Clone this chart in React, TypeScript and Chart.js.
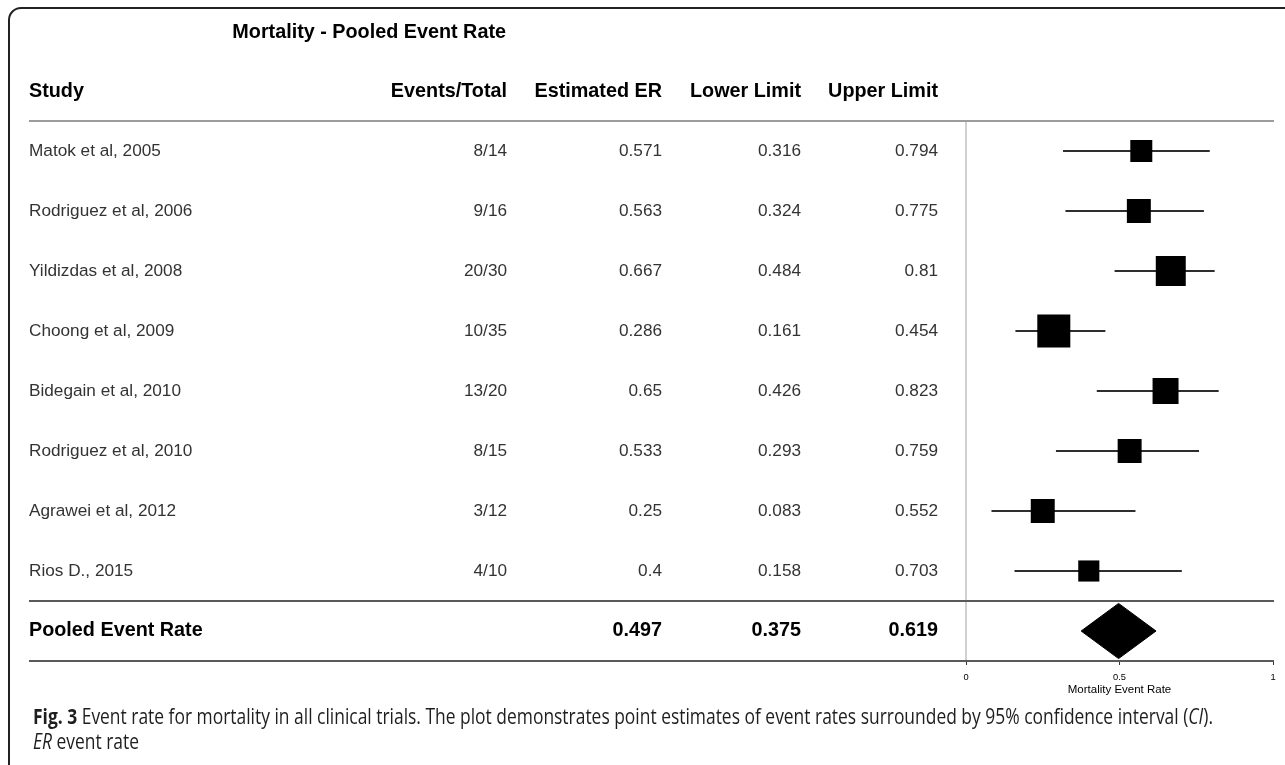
import React, { useEffect, useRef } from 'react';
import { Chart, registerables } from 'chart.js';

Chart.register(...registerables);

// ---- study data ----
const studies = [
  'Matok et al, 2005',
  'Rodriguez et al, 2006',
  'Yildizdas et al, 2008',
  'Choong et al, 2009',
  'Bidegain et al, 2010',
  'Rodriguez et al, 2010',
  'Agrawei et al, 2012',
  'Rios D., 2015',
];
const events = [8, 9, 20, 10, 13, 8, 3, 4];
const totals = [14, 16, 30, 35, 20, 15, 12, 10];
const estimatedER = [0.571, 0.563, 0.667, 0.286, 0.65, 0.533, 0.25, 0.4];
const lowerLimits = [0.316, 0.324, 0.484, 0.161, 0.426, 0.293, 0.083, 0.158];
const upperLimits = [0.794, 0.775, 0.81, 0.454, 0.823, 0.759, 0.552, 0.703];
// relative study weights (%), shown as the size of each square
const relativeWeights = [9.1, 10.8, 16.9, 20.5, 12.7, 10.8, 10.8, 8.4];

const pooledLabel = 'Pooled Event Rate';
const pooledER = 0.497;
const pooledLower = 0.375;
const pooledUpper = 0.619;

const columnHeaders = ['Study', 'Events/Total', 'Estimated ER', 'Lower Limit', 'Upper Limit'];
const xTickValues = [0, 0.5, 1];
const chartTitle = 'Mortality - Pooled Event Rate';
const axisTitle = 'Mortality Event Rate';

const captionLine1 = [
  { text: 'Fig. 3', style: 'bold' },
  {
    text: ' Event rate for mortality in all clinical trials. The plot demonstrates point estimates of event rates surrounded by 95% confidence interval (',
    style: 'normal',
  },
  { text: 'CI', style: 'italic' },
  { text: ').', style: 'normal' },
];
const captionLine2 = [
  { text: 'ER', style: 'italic' },
  { text: ' event rate', style: 'normal' },
];

// ---- layout ----
const W = 1285;
const H = 765;
const TABLE_FONT = '"Liberation Sans", Arial, Helvetica, sans-serif';
const CAPTION_FONT = '"Open Sans", "Noto Sans", sans-serif';
const TABLE_LEFT = 29;
const TABLE_RIGHT = 1274;
const COL_RIGHT = [507, 662, 801, 938];
const SQUARE_SCALE = 72.9; // side length (px) of a square carrying 100% weight
const DIAMOND_HALF = 0.46; // half height of the pooled diamond, in rows

const pooledRow = studies.length;

function hLine(ctx: CanvasRenderingContext2D, x1: number, x2: number, y: number, color: string, w: number) {
  ctx.beginPath();
  ctx.strokeStyle = color;
  ctx.lineWidth = w;
  ctx.moveTo(x1, y);
  ctx.lineTo(x2, y);
  ctx.stroke();
}

function runFont(style: string, size: number) {
  const weight = style === 'bold' ? 'bold ' : '';
  const italic = style === 'italic' ? 'italic ' : '';
  return `${italic}${weight}${size}px ${CAPTION_FONT}`;
}

function drawRuns(ctx: CanvasRenderingContext2D, runs: { text: string; style: string }[], size: number) {
  let x = 0;
  for (const r of runs) {
    ctx.font = runFont(r.style, size);
    ctx.fillText(r.text, x, 0);
    x += ctx.measureText(r.text).width;
  }
  return x;
}

function measureRuns(ctx: CanvasRenderingContext2D, runs: { text: string; style: string }[], size: number) {
  let x = 0;
  for (const r of runs) {
    ctx.font = runFont(r.style, size);
    x += ctx.measureText(r.text).width;
  }
  return x;
}

const forestTable = {
  id: 'forestTable',
  beforeDatasetsDraw(chart: any) {
    const { ctx, chartArea, scales } = chart;
    const x0 = scales.x.getPixelForValue(0);
    ctx.save();
    ctx.beginPath();
    ctx.strokeStyle = '#d0d0d0';
    ctx.lineWidth = 2;
    ctx.moveTo(x0, chartArea.top);
    ctx.lineTo(x0, chartArea.bottom);
    ctx.stroke();
    ctx.restore();
  },
  afterDraw(chart: any) {
    const { ctx, scales } = chart;
    const y = scales.y;
    ctx.save();

    // outer frame (top and left edges, rounded corner)
    const r = 12;
    ctx.beginPath();
    ctx.strokeStyle = '#222';
    ctx.lineWidth = 2;
    ctx.moveTo(9, H);
    ctx.lineTo(9, 8 + r);
    ctx.arcTo(9, 8, 9 + r, 8, r);
    ctx.lineTo(W, 8);
    ctx.stroke();

    // title
    ctx.fillStyle = '#000';
    ctx.textBaseline = 'middle';
    ctx.font = `bold 19.8px ${TABLE_FONT}`;
    ctx.textAlign = 'right';
    ctx.fillText(chartTitle, 506, 33);

    // column headers
    ctx.textAlign = 'left';
    ctx.fillText(columnHeaders[0], TABLE_LEFT, 92);
    ctx.textAlign = 'right';
    for (let c = 1; c < columnHeaders.length; c++) {
      ctx.fillText(columnHeaders[c], COL_RIGHT[c - 1], 92);
    }

    // rule lines
    hLine(ctx, TABLE_LEFT, TABLE_RIGHT, y.getPixelForValue(-0.5), '#9c9c9c', 2);
    hLine(ctx, TABLE_LEFT, TABLE_RIGHT, y.getPixelForValue(pooledRow - 0.5), '#5a5a5a', 2);
    hLine(ctx, TABLE_LEFT, scales.x.getPixelForValue(1), y.getPixelForValue(pooledRow + 0.5), '#5a5a5a', 2);

    // study rows
    ctx.font = `17.2px ${TABLE_FONT}`;
    ctx.fillStyle = '#333';
    studies.forEach((name, i) => {
      const py = y.getPixelForValue(i);
      ctx.textAlign = 'left';
      ctx.fillText(name, TABLE_LEFT, py);
      ctx.textAlign = 'right';
      ctx.fillText(`${events[i]}/${totals[i]}`, COL_RIGHT[0], py);
      ctx.fillText(String(estimatedER[i]), COL_RIGHT[1], py);
      ctx.fillText(String(lowerLimits[i]), COL_RIGHT[2], py);
      ctx.fillText(String(upperLimits[i]), COL_RIGHT[3], py);
    });

    // pooled row
    const pyP = y.getPixelForValue(pooledRow);
    ctx.font = `bold 19.8px ${TABLE_FONT}`;
    ctx.fillStyle = '#000';
    ctx.textAlign = 'left';
    ctx.fillText(pooledLabel, TABLE_LEFT, pyP);
    ctx.textAlign = 'right';
    ctx.fillText(String(pooledER), COL_RIGHT[1], pyP);
    ctx.fillText(String(pooledLower), COL_RIGHT[2], pyP);
    ctx.fillText(String(pooledUpper), COL_RIGHT[3], pyP);

    // figure caption
    const capSize = 22;
    const capWidth = 1180;
    const sx = capWidth / measureRuns(ctx, captionLine1, capSize);
    ctx.fillStyle = '#1e1e1e';
    ctx.textAlign = 'left';
    ctx.textBaseline = 'alphabetic';
    ctx.save();
    ctx.translate(33, 724);
    ctx.scale(sx, 1);
    drawRuns(ctx, captionLine1, capSize);
    ctx.restore();
    ctx.save();
    ctx.translate(33, 749);
    ctx.scale(sx, 1);
    drawRuns(ctx, captionLine2, capSize);
    ctx.restore();

    ctx.restore();
  },
};

export default function App() {
  const canvasRef = useRef<HTMLCanvasElement>(null);

  useEffect(() => {
    const canvas = canvasRef.current;
    if (!canvas) return;

    const squares = {
      type: 'scatter' as const,
      data: studies.map((_, i) => ({ x: estimatedER[i], y: i })),
      pointStyle: 'rect',
      pointRadius: relativeWeights.map((w) => (Math.sqrt(w / 100) * SQUARE_SCALE) / Math.SQRT2),
      pointBackgroundColor: '#000',
      pointBorderColor: '#000',
      pointBorderWidth: 0,
      order: 0,
    };

    const whiskers = studies.map((_, i) => ({
      type: 'line' as const,
      data: [
        { x: lowerLimits[i], y: i },
        { x: upperLimits[i], y: i },
      ],
      borderColor: '#2e2e2e',
      borderWidth: 2,
      pointRadius: 0,
      fill: false,
      order: 2,
    }));

    const diamond = {
      type: 'line' as const,
      data: [
        { x: pooledLower, y: pooledRow },
        { x: pooledER, y: pooledRow - DIAMOND_HALF },
        { x: pooledUpper, y: pooledRow },
        { x: pooledER, y: pooledRow + DIAMOND_HALF },
        { x: pooledLower, y: pooledRow },
      ],
      borderColor: '#000',
      backgroundColor: '#000',
      borderWidth: 1,
      pointRadius: 0,
      fill: 'shape',
      order: 1,
    };

    const chart = new Chart(canvas, {
      type: 'scatter',
      data: { datasets: [squares, diamond, ...whiskers] as any },
      options: {
        responsive: false,
        animation: false,
        events: [],
        layout: {
          // the large squares must not widen the margins; the plot sits at fixed table offsets
          autoPadding: false,
          padding: { left: 966, right: 12, top: 121, bottom: 64.04 },
        },
        plugins: {
          legend: { display: false },
          tooltip: { enabled: false },
          title: { display: false },
        },
        scales: {
          x: {
            type: 'linear',
            min: 0,
            max: 1,
            afterBuildTicks: (scale: any) => {
              scale.ticks = xTickValues.map((v) => ({ value: v }));
            },
            ticks: {
              font: { family: TABLE_FONT, size: 9.3 },
              color: '#000',
              padding: 7,
              maxRotation: 0,
              autoSkip: false,
              callback: (v: any) => String(v),
            },
            grid: {
              display: true,
              drawOnChartArea: false,
              drawTicks: true,
              tickLength: 4,
              color: '#333',
              lineWidth: 1,
            },
            border: { display: true, color: '#5a5a5a', width: 2 },
            title: {
              display: true,
              text: axisTitle,
              font: { family: TABLE_FONT, size: 11.5 },
              color: '#000',
              padding: { top: -7, bottom: 4 },
            },
          },
          y: {
            type: 'linear',
            min: -0.5,
            max: studies.length + 0.5,
            reverse: true,
            display: false,
          },
        },
      } as any,
      plugins: [forestTable],
    });

    return () => chart.destroy();
  }, []);

  return (
    <div style={{ position: 'absolute', left: 0, top: 0, width: W, height: H, background: '#fff' }}>
      <canvas ref={canvasRef} width={W} height={H} style={{ display: 'block' }} />
    </div>
  );
}
